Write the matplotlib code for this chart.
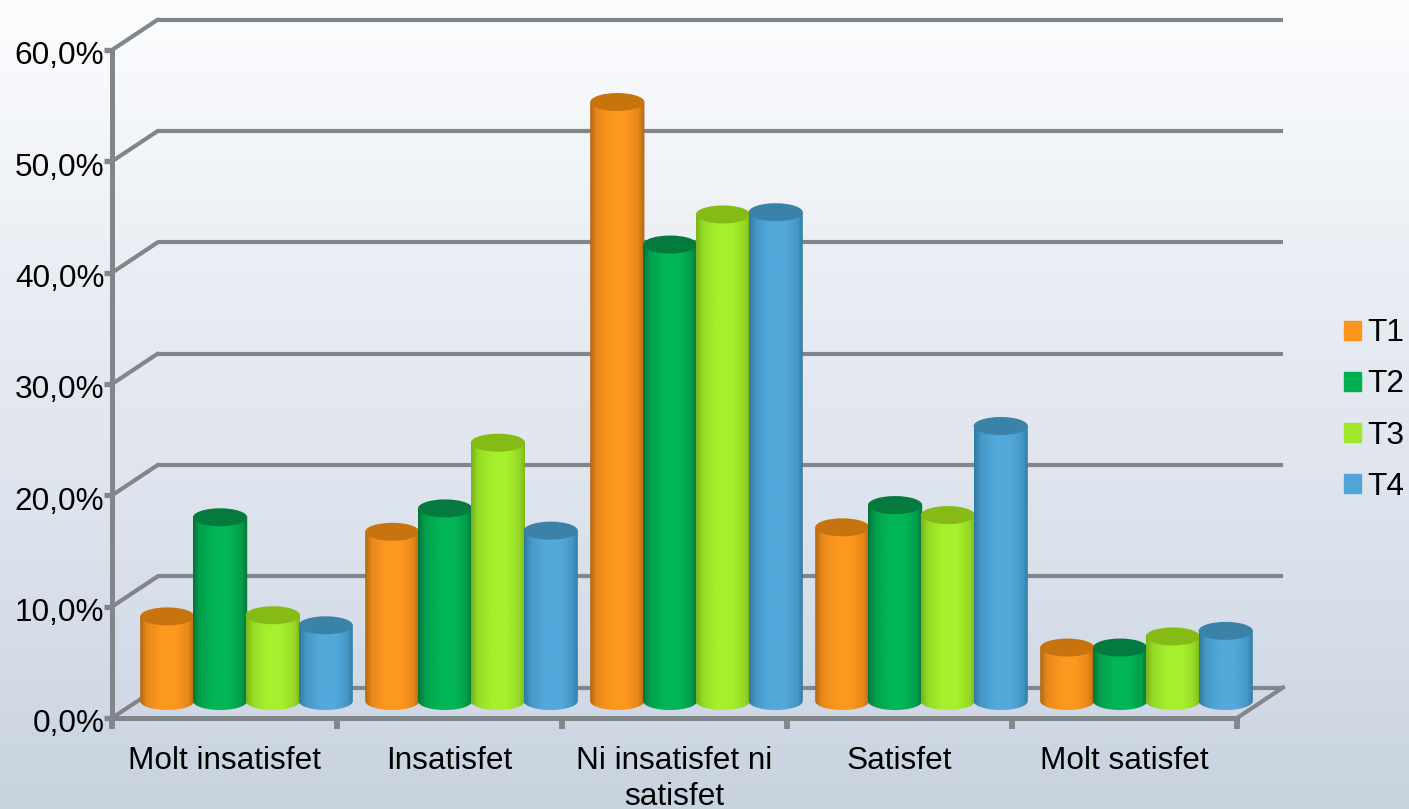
import numpy as np
import matplotlib
matplotlib.use("Agg")
import matplotlib.pyplot as plt
from matplotlib.colors import LinearSegmentedColormap
from matplotlib.patches import Ellipse
from matplotlib.path import Path
from matplotlib.transforms import Affine2D

categories = ["Molt insatisfet", "Insatisfet", "Ni insatisfet ni\nsatisfet", "Satisfet", "Molt satisfet"]
t1 = [7.6, 15.2, 53.8, 15.6, 4.8]
t2 = [16.5, 17.3, 41.0, 17.6, 4.8]
t3 = [7.7, 23.2, 43.7, 16.7, 5.8]
t4 = [6.8, 15.3, 43.9, 24.7, 6.3]
series_names = ["T1", "T2", "T3", "T4"]
y_ticks = [0, 10, 20, 30, 40, 50, 60]
y_labels = ["0,0%", "10,0%", "20,0%", "30,0%", "40,0%", "50,0%", "60,0%"]

base = ["#fd9420", "#00b050", "#a0e82a", "#4fa6d6"]
bright = ["#fd981f", "#02b556", "#a6f02e", "#52a9da"]
mid = ["#e8881a", "#029f4c", "#95da26", "#4598c6"]
dark = ["#b0670f", "#04733a", "#7ab31a", "#2f789e"]
cap = ["#c8740e", "#047a3e", "#86bb16", "#3a82a8"]
GRID = "#82868b"

W, H = 1409, 809
plt.rcParams["font.family"] = ["Liberation Sans", "DejaVu Sans"]
FS = 22.7
fig = plt.figure(figsize=(W / 100, H / 100), dpi=100)

# page background
bg = fig.add_axes([0, 0, 1, 1], zorder=0)
bg_cmap = LinearSegmentedColormap.from_list(
    "page", [(0, "#fcfdfe"), (0.37, "#e8ecf3"), (0.67, "#dce2ec"), (1, "#c8d3e0")])
bg.imshow(np.linspace(0, 1, 256)[:, None], cmap=bg_cmap, aspect="auto", vmin=0, vmax=1)
bg.axis("off")

# front plane of the chart
ax = fig.add_axes([112 / W, 1 - 718 / H, 1125 / W, 668 / H], zorder=1)
ax.patch.set_visible(False)
n = len(categories)
ax.set_xlim(0, n)
ax.set_ylim(0, 60)
px_x = n / 1125
px_y = 60 / 668
DX, DY = 46 * px_x, 30.5 * px_y          # depth of the back wall
MX, MY = 22 * px_x, 17 * px_y            # depth of the bar axis
BW = 52.8 * px_x
EH = 18 * px_y
SEAM = 0.7 * px_x

# walls
for v in y_ticks:
    ax.plot([DX, n + DX], [v + DY, v + DY], color=GRID, lw=3.0, clip_on=False, zorder=1,
            solid_capstyle="butt")
    ax.plot([0, DX], [v, v + DY], color=GRID, lw=3.0, clip_on=False, zorder=1,
            solid_capstyle="round")
ax.plot([n, n + DX], [0, DY], color=GRID, lw=3.0, clip_on=False, zorder=1)

# cylinders
all_series = [t1, t2, t3, t4]
u = np.linspace(np.pi, 2 * np.pi, 60)
for j, (vals, name) in enumerate(zip(all_series, series_names)):
    cmap = LinearSegmentedColormap.from_list(
        name, [(0, dark[j]), (0.12, mid[j]), (0.38, bright[j]), (0.66, bright[j]),
               (0.88, mid[j]), (1, dark[j])])
    xs = np.arange(n) + 0.5 + MX + (j - 1.5) * BW
    bars = ax.bar(xs, vals, BW, bottom=MY, color=base[j], label=name, zorder=3 + j,
                  clip_on=False, linewidth=0)
    for x, v, b in zip(xs, vals, bars):
        b.set_visible(False)
        half = BW / 2 + SEAM
        ex = x + half * np.cos(u)
        ey = MY + EH / 2 * np.sin(u)
        verts = np.column_stack([
            np.r_[ex, x + half, x - half, ex[0]],
            np.r_[ey, MY + v, MY + v, ey[0]]])
        clip = Path(verts, closed=True)
        im = ax.imshow(np.linspace(0, 1, 128)[None, :], cmap=cmap, aspect="auto",
                       extent=[x - half, x + half, MY - EH, MY + v],
                       zorder=3 + j, interpolation="bilinear")
        im.set_clip_box(fig.bbox)
        im.set_clip_path(clip, ax.transData)
        ax.add_patch(Ellipse((x, MY + v), BW + 2 * SEAM, EH, facecolor=cap[j], edgecolor="none",
                             zorder=3 + j + 0.1, clip_on=False))
ax.set_xlim(0, n)
ax.set_ylim(0, 60)
ax.set_aspect("auto")

# axes
for s in ("top", "right"):
    ax.spines[s].set_visible(False)
for s in ("left", "bottom"):
    ax.spines[s].set_color(GRID)
    ax.spines[s].set_linewidth(3.6)
    ax.spines[s].set_zorder(2)
ax.set_yticks(y_ticks, y_labels)
ax.set_xticks(np.arange(n + 1), [""] * (n + 1))
ax.set_xticks(np.arange(n) + 0.5, categories, minor=True)
ax.tick_params(axis="y", length=5.5, width=3.8, color=GRID, labelsize=FS, pad=0)
ax.tick_params(axis="x", which="major", length=8, width=4.2, color=GRID)
ax.tick_params(axis="x", which="minor", length=0, labelsize=FS, pad=20)
for lab in ax.get_xticklabels(minor=True):
    lab.set_linespacing(1.28)
for tick in ax.yaxis.get_major_ticks():
    tick.label1.set_transform(tick.label1.get_transform() + Affine2D().translate(0, -3))

# legend
handles, labels = ax.get_legend_handles_labels()
proxy = [plt.Rectangle((0, 0), 1, 1, color=c) for c in base]
fig.legend(proxy, labels, loc="center left", bbox_to_anchor=(1344 / W, 1 - 410 / H),
           frameon=False, fontsize=FS, handlelength=0.54, handleheight=0.54,
           handletextpad=0.2, labelspacing=0.67, borderaxespad=0, borderpad=0)

fig.savefig("out.png", dpi=100)
